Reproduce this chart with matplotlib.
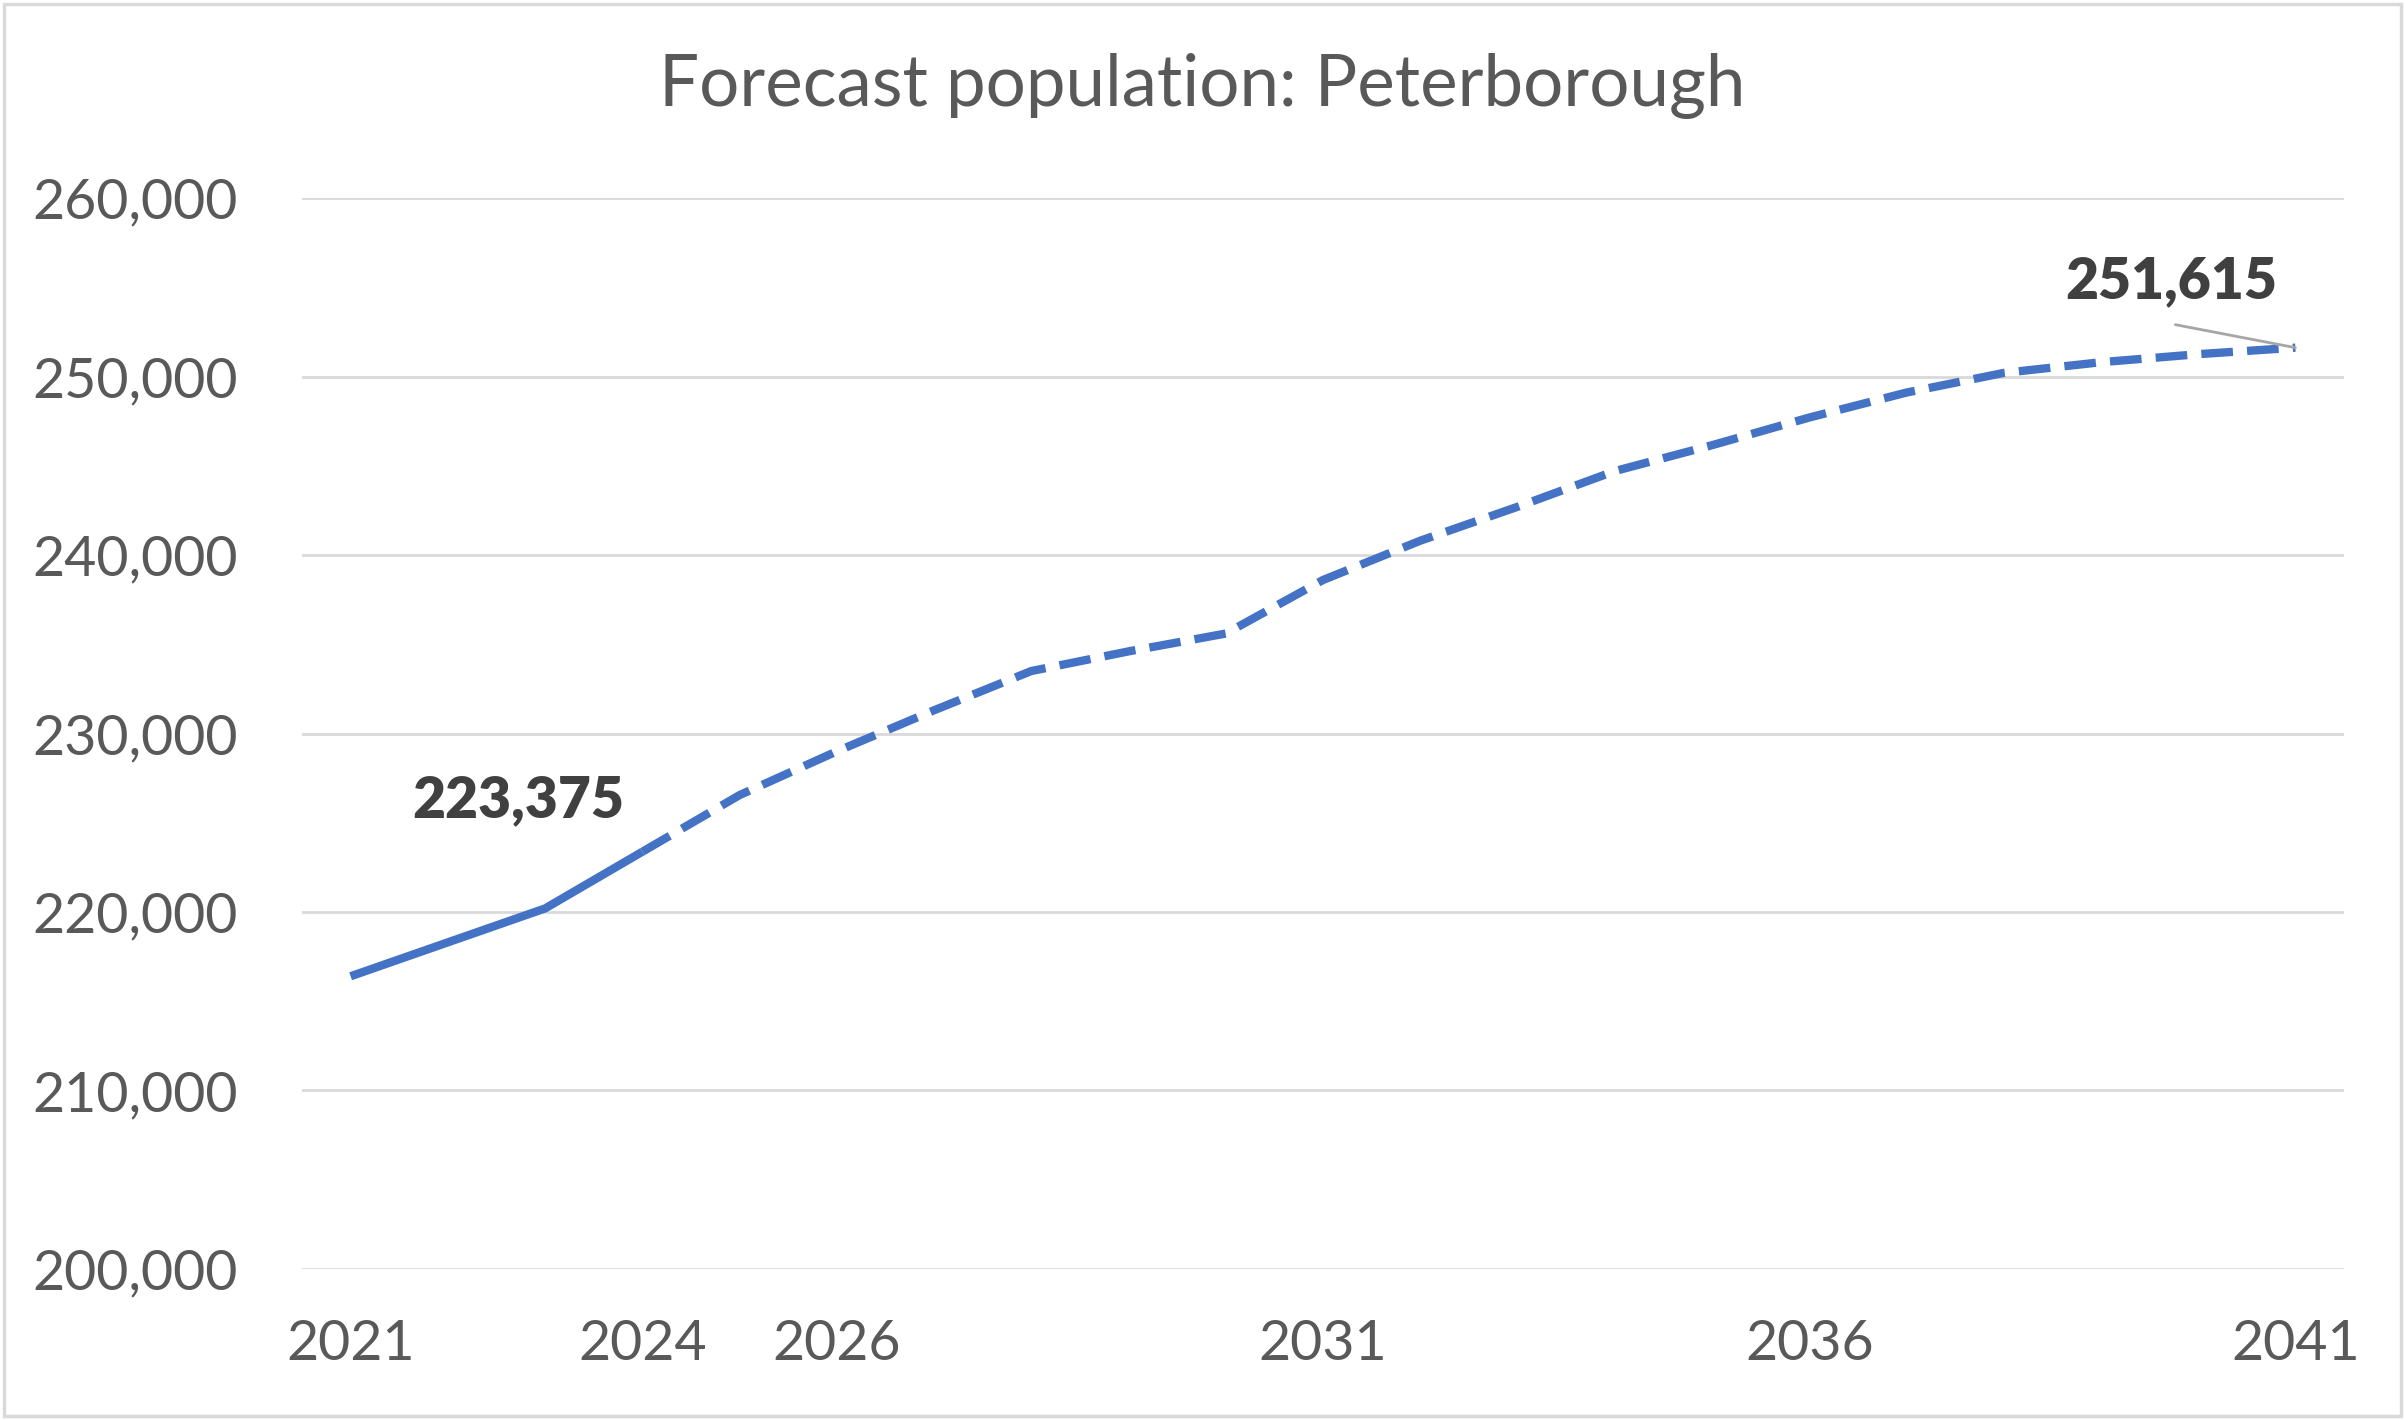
import matplotlib
matplotlib.use("Agg")
import matplotlib.pyplot as plt
from matplotlib.patches import Rectangle

years = list(range(2021, 2042))
population = [216400, 218300, 220200, 223375, 226550, 229000, 231300, 233500,
              234600, 235600, 238600, 240800, 242700, 244700, 246150, 247700,
              249100, 250200, 250800, 251250, 251615]
tick_years = [2021, 2024, 2026, 2031, 2036, 2041]
y_ticks = [200000, 210000, 220000, 230000, 240000, 250000, 260000]
title = "Forecast population: Peterborough"
solid_end_year = 2024
labelled_years = [2024, 2041]

plt.rcParams['font.family'] = ['Lato', 'DejaVu Sans']

W, H, DPI = 2405, 1420, 100
fig = plt.figure(figsize=(W / DPI, H / DPI), dpi=DPI)
fig.patch.set_facecolor('white')
fig.patches.append(Rectangle((0.0015, 0.0025), 0.997, 0.995, transform=fig.transFigure,
                             fill=False, edgecolor='#D9D9D9', linewidth=2.5))

ax = fig.add_axes([302 / W, 1 - 1269 / H, (2344 - 302) / W, (1269 - 198) / H])
ax.set_xlim(2020.5, 2041.5)
ax.set_ylim(200000, 260000)
ax.set_yticks(y_ticks)
ax.set_xticks(tick_years)
ax.set_yticklabels([f"{v:,}" for v in y_ticks])
ax.set_xticklabels([str(y) for y in tick_years])
ax.grid(axis='y', color='#D9D9D9', linewidth=2)
ax.set_axisbelow(True)
for s in ax.spines.values():
    s.set_visible(False)
ax.tick_params(axis='both', length=0, labelsize=40, colors='#595959')
ax.tick_params(axis='y', pad=46)
ax.tick_params(axis='x', pad=36)

si = years.index(solid_end_year)
blue = '#4472C4'
ax.plot(years[:si + 1], population[:si + 1], color=blue, linewidth=6,
        solid_joinstyle='miter', solid_capstyle='butt')
ax.plot(years[si:], population[si:], color=blue, linewidth=6,
        linestyle=(0, (3.8, 1.7)), dash_capstyle='butt')

# data labels
y0 = population[years.index(labelled_years[0])]
ax.annotate(f"{y0:,}", xy=(labelled_years[0], y0), xytext=(-124, 52),
            textcoords='offset pixels', ha='center', va='center',
            fontsize=41, fontweight='heavy', color='#404040')
y1 = population[years.index(labelled_years[1])]
ax.annotate(f"{y1:,}", xy=(labelled_years[1], y1), xytext=(-124, 66),
            textcoords='offset pixels', ha='center', va='center',
            fontsize=41, fontweight='heavy', color='#404040')
ax.annotate("", xy=(labelled_years[1], y1), xytext=(-120, 23),
            textcoords='offset pixels',
            arrowprops=dict(arrowstyle='-', color='#A6A6A6', linewidth=2,
                            shrinkA=0, shrinkB=0))

fig.text(0.5, 1 - 86 / H, title, ha='center', va='center', fontsize=51, color='#595959')

fig.savefig('out.png', dpi=DPI)
